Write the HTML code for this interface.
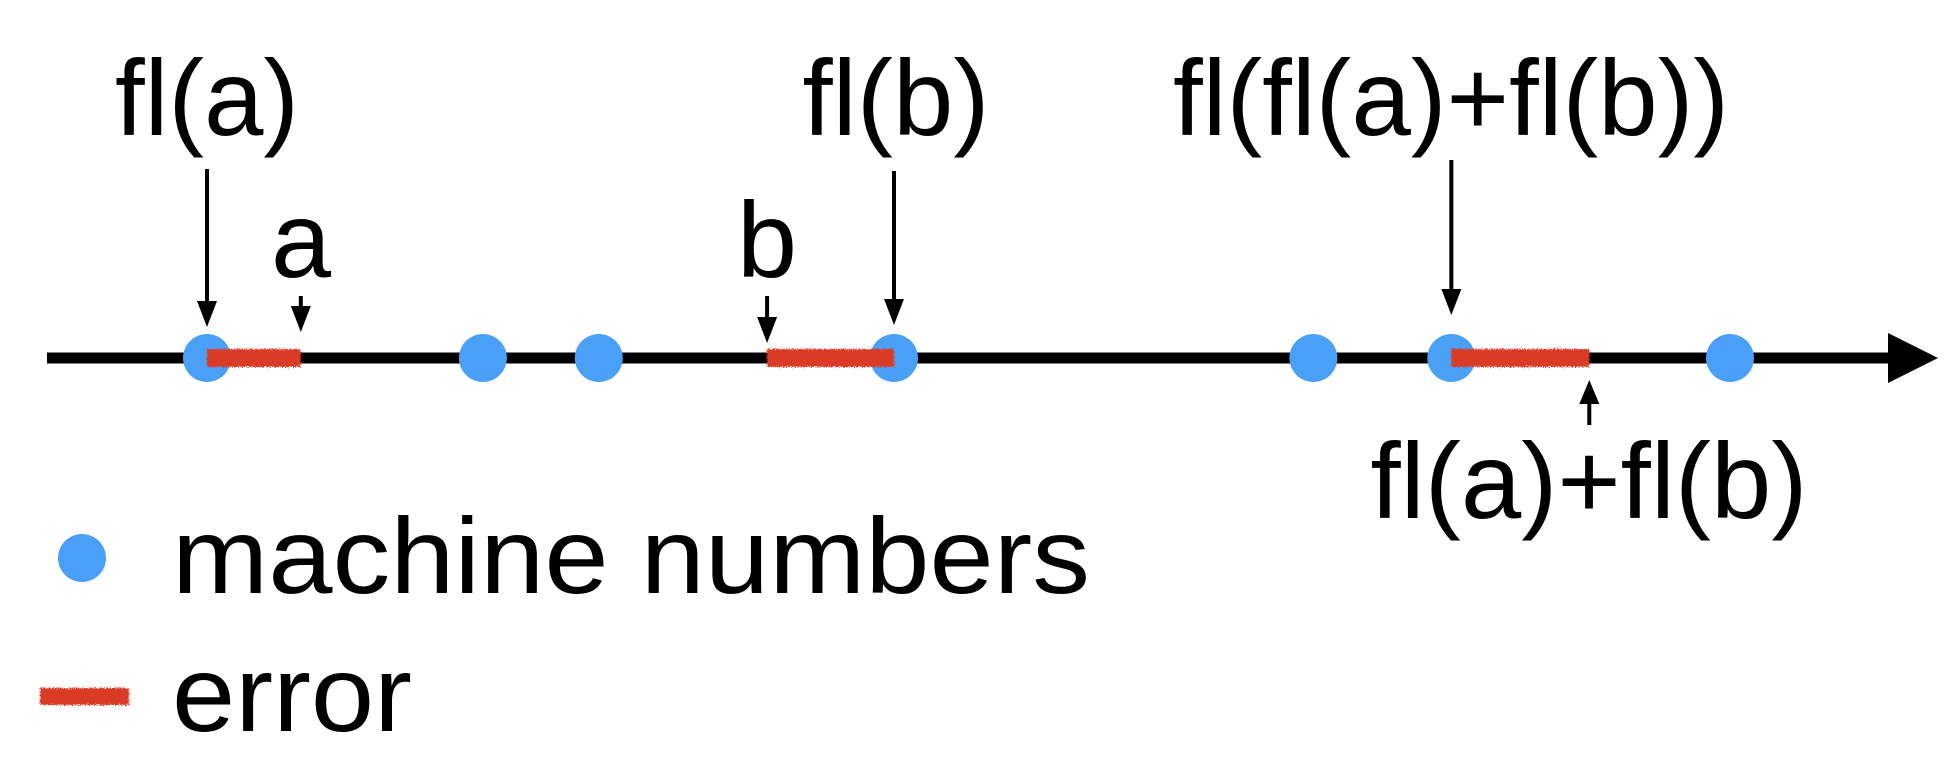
<!DOCTYPE html>
<html><head><meta charset="utf-8"><style>
html,body{margin:0;padding:0;background:#fff;}
svg{display:block;}
text{font-family:"Liberation Sans",Arial,sans-serif;font-size:108px;fill:#000;}
</style></head><body>
<svg id="c" width="1948" height="766" viewBox="0 0 1948 766">
<defs>
<filter id="rough" x="-10%" y="-100%" width="120%" height="300%"><feTurbulence type="fractalNoise" baseFrequency="0.9" numOctaves="2" seed="3"/><feDisplacementMap in="SourceGraphic" scale="6"/></filter>
</defs>
<line x1="47" y1="358" x2="1895" y2="358" stroke="#000" stroke-width="11"/>
<polygon points="1888,333 1938,358 1888,383" fill="#000"/>
<g id="marks"></g>
<text x="207" y="135" text-anchor="middle" textLength="184" lengthAdjust="spacingAndGlyphs">fl(a)</text>
<text x="301" y="277" text-anchor="middle">a</text>
<text x="767" y="277" text-anchor="middle">b</text>
<text x="896" y="135" text-anchor="middle" textLength="187" lengthAdjust="spacingAndGlyphs">fl(b)</text>
<text x="1451" y="135" text-anchor="middle" textLength="556" lengthAdjust="spacingAndGlyphs">fl(fl(a)+fl(b))</text>
<text x="1589" y="518" text-anchor="middle" textLength="437" lengthAdjust="spacingAndGlyphs">fl(a)+fl(b)</text>
<circle cx="82" cy="558" r="24" fill="#4aa0f7"/>
<text x="172" y="593" textLength="918" lengthAdjust="spacingAndGlyphs">machine numbers</text>
<rect x="40" y="688" width="89" height="17" fill="#d93a26" filter="url(#rough)"/>
<text x="172" y="731" textLength="240" lengthAdjust="spacingAndGlyphs">error</text>
</svg>
<script>
const machineNumbers=[0.0,1.0,1.42,2.49,4.01,4.51,5.52];
const errorStarts=[0.0,2.03,4.51];
const errorEnds=[0.34,2.49,5.01];
const arrowX=[0.0,0.34,2.03,2.49,4.51,5.01];
const arrowTop=[169,296,296,171,160,425];
const arrowBottom=[327,332,343,325,315,380];
const arrowNames=['arrow-fl-a','arrow-a','arrow-b','arrow-fl-b','arrow-fl-sum-rounded','arrow-fl-sum'];
const x0=207,x1=1730,v0=0,v1=5.52;
function sx(v){return x0+(v-v0)/(v1-v0)*(x1-x0);}
const NS='http://www.w3.org/2000/svg',g=document.getElementById('marks');
machineNumbers.forEach(v=>{
 const c=document.createElementNS(NS,'circle');
 c.setAttribute('cx',sx(v));c.setAttribute('cy',358);c.setAttribute('r',24);c.setAttribute('fill','#4aa0f7');
 
 
 g.appendChild(c);
});
for(let i=0;i<errorStarts.length;i++){
 const r=document.createElementNS(NS,'rect');
 const a=sx(errorStarts[i]),b=sx(errorEnds[i]);
 r.setAttribute('x',a);r.setAttribute('width',b-a);
 r.setAttribute('y',349);r.setAttribute('height',18);
 r.setAttribute('fill','#d93a26');r.setAttribute('filter','url(#rough)');
 
 
 g.appendChild(r);
}
for(let i=0;i<arrowX.length;i++){
 const x=sx(arrowX[i]),t=arrowTop[i],b=arrowBottom[i],up=t>b;
 const a=document.createElementNS(NS,'g');
 
 
 const s=document.createElementNS(NS,'line');
 s.setAttribute('x1',x);s.setAttribute('x2',x);s.setAttribute('y1',t);s.setAttribute('y2',up?b+18:b-20);
 s.setAttribute('stroke','#000');s.setAttribute('stroke-width',4);
 const p=document.createElementNS(NS,'polygon');
 p.setAttribute('points',up?`${x-10},${b+24} ${x+10},${b+24} ${x},${b}`:`${x-10},${b-26} ${x+10},${b-26} ${x},${b}`);
 p.setAttribute('fill','#000');
 a.appendChild(s);a.appendChild(p);g.appendChild(a);
}
</script>
</body></html>
